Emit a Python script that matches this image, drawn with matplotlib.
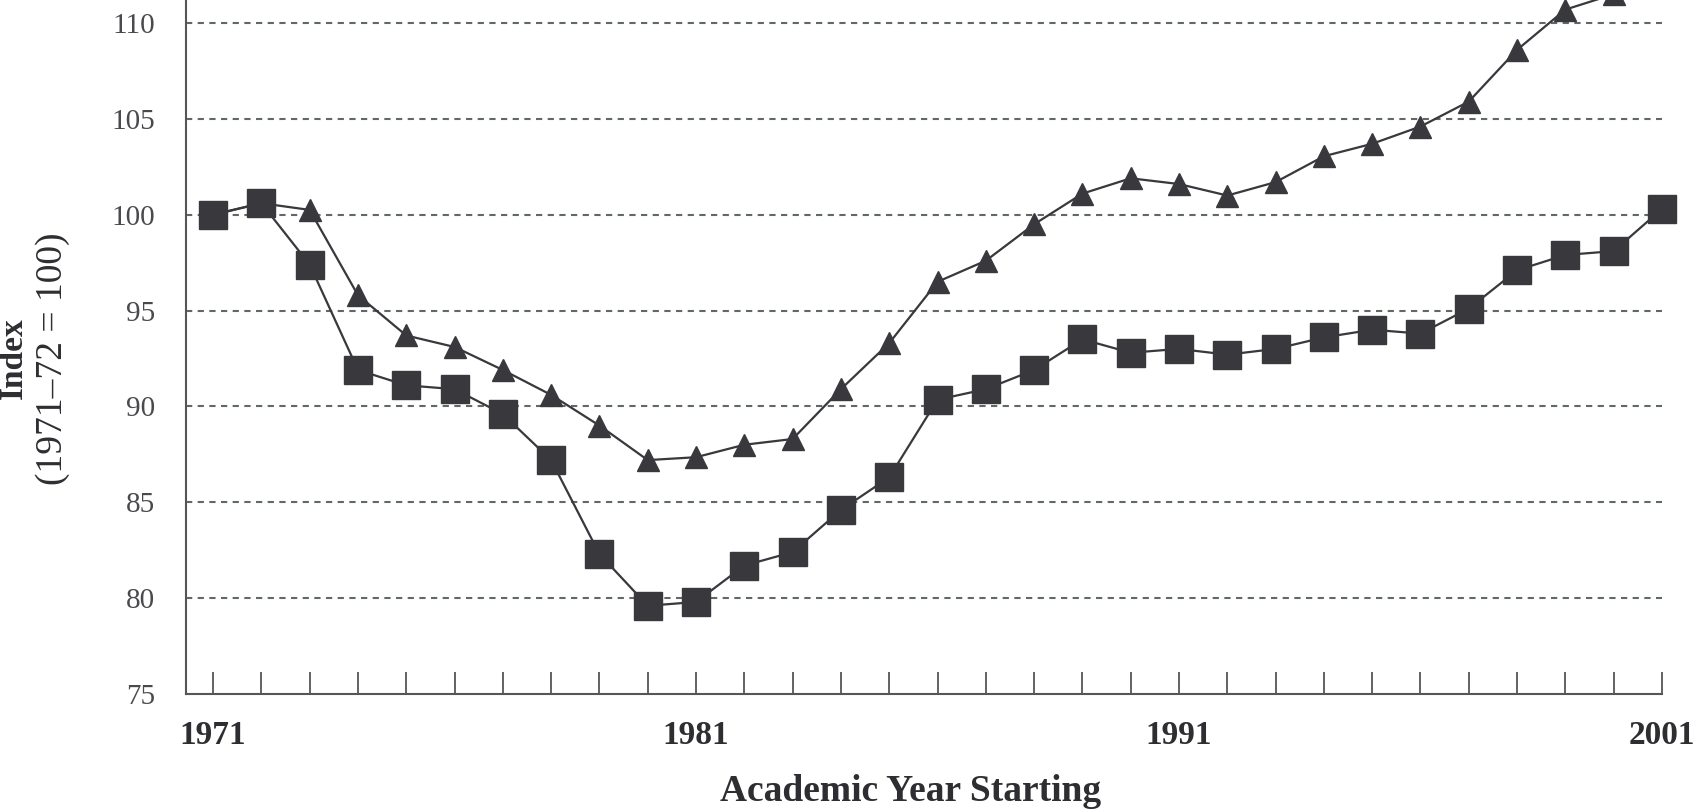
import matplotlib.pyplot as plt

# academic year starting, 1971 .. 2001
years = list(range(1971, 2002))

# square series (lower line)
squares = [100.0, 100.6, 97.4, 91.9, 91.1, 90.9, 89.6, 87.2, 82.3, 79.6,
           79.8, 81.7, 82.4, 84.6, 86.3, 90.35, 90.9, 91.9, 93.5, 92.8,
           93.0, 92.7, 93.0, 93.6, 94.0, 93.8, 95.1, 97.1, 97.9, 98.1,
           100.3]

# triangle series (upper line)
triangles = [100.0, 100.6, 100.25, 95.8, 93.7, 93.1, 91.9, 90.6, 89.0, 87.2,
             87.35, 88.0, 88.3, 90.9, 93.3, 96.5, 97.6, 99.5, 101.1, 101.9,
             101.6, 101.0, 101.7, 103.05, 103.7, 104.6, 105.9, 108.6, 110.7, 111.5,
             112.4]

y_ticks = [75, 80, 85, 90, 95, 100, 105, 110]
x_labelled = [1971, 1981, 1991, 2001]

plt.rcParams['font.family'] = ['Liberation Serif', 'DejaVu Serif']

line_col = '#38383d'
grid_col = '#5f6a66'
axis_col = '#56565a'
text_col = '#2e2e32'

fig = plt.figure(figsize=(16.99, 8.11), dpi=100)
ax = fig.add_axes([0.1095, 0.1443, 0.9782 - 0.1095, 1 - 0.1443])

ax.set_xlim(1970.44, 2001)
ax.set_ylim(75, 111.2)

for v in y_ticks[1:]:
    ax.axhline(v, color=grid_col, lw=1.5, ls=(0, (3, 2.6)), zorder=1)

ax.plot(years, triangles, color=line_col, lw=1.6, marker='^', ms=16,
        mfc=line_col, mec=line_col, zorder=3)
ax.plot(years, squares, color=line_col, lw=1.6, marker='s', ms=20,
        mfc=line_col, mec=line_col, zorder=4, clip_on=False)

for s in ['top', 'right']:
    ax.spines[s].set_visible(False)
for s in ['left', 'bottom']:
    ax.spines[s].set_color(axis_col)
    ax.spines[s].set_linewidth(1.5)

ax.set_yticks(y_ticks)
ax.set_yticklabels([str(v) for v in y_ticks], fontsize=21, color='#4a4a4e')
ax.tick_params(axis='y', length=0, pad=22)

ax.set_xticks(years)
ax.set_xticklabels([str(y) if y in x_labelled else '' for y in years],
                   fontsize=24, fontweight='bold', color=text_col)
ax.tick_params(axis='x', direction='in', length=16, width=1.3,
               color=axis_col, pad=19)

fig.text(0.536, 0.024, 'Academic Year Starting', ha='center', va='center',
         fontsize=27, fontweight='bold', color=text_col)

fig.text(0.008, 0.558, 'Index', rotation=90, ha='center', va='center',
         fontsize=24, fontweight='bold', color=text_col)
fig.text(0.031, 0.558, '(1971\u201372 = 100)', rotation=90, ha='center',
         va='center', fontsize=27, color=text_col)

fig.savefig('out.png', dpi=100, facecolor='white')
